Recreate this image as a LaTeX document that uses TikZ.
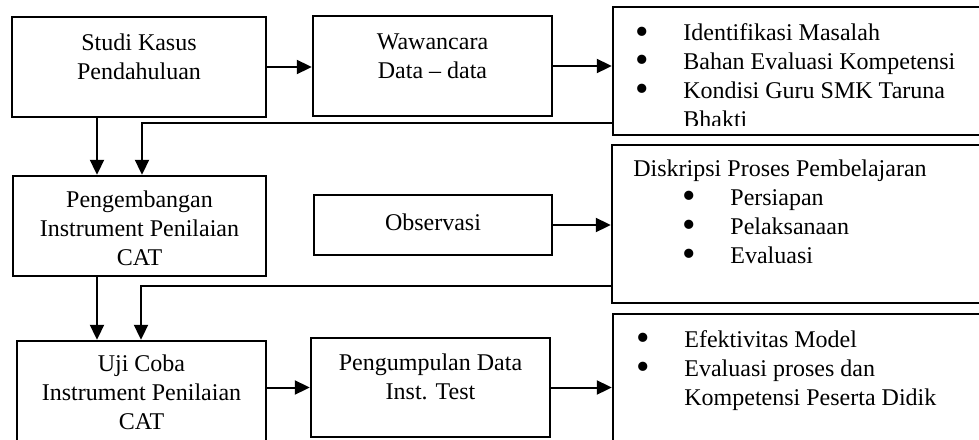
\documentclass[tikz,border=0pt]{standalone}
\usepackage{fontspec}
\usepackage{graphicx}
\setmainfont{Liberation Serif}
\usetikzlibrary{arrows.meta}
\begin{document}
\begin{tikzpicture}[x=0.5pt,y=-0.5pt,
  box/.style={draw, line width=1.2pt, rectangle, inner sep=0pt},
  txt/.style={inner sep=0pt, font=\fontsize{12}{14.4}\selectfont},
  ctxt/.style={txt, align=center, anchor=base},
  ltxt/.style={txt, align=left, anchor=base west},
  arr/.style={line width=1pt, -{Triangle[length=7.5pt,width=7pt]}}]
\useasboundingbox (0,0) rectangle (979,439);
\clip (0,0) rectangle (979,439);
\newcommand{\bul}{\makebox[24pt][l]{\raisebox{-1.7pt}{\scalebox{1.6}{\textbullet}}}}

% boxes
\node[box, minimum width=127pt,   minimum height=50pt] (b1) at (139,67) {};
\node[box, minimum width=119.5pt, minimum height=50pt] (b2) at (432.5,66) {};
\node[box, minimum width=191pt,   minimum height=64pt] (b3) at (804,71) {};
\node[box, minimum width=126.5pt, minimum height=50pt] (b4) at (139.5,226) {};
\node[box, minimum width=119pt,   minimum height=30pt] (b5) at (433,225) {};
\node[box, minimum width=191.5pt, minimum height=79pt] (b6) at (803.5,224) {};
\node[box, minimum width=124.5pt, minimum height=59.5pt] (b7) at (141.5,400.5) {};
\node[box, minimum width=119.5pt, minimum height=49.5pt] (b8) at (430.5,387.5) {};
\node[box, minimum width=191pt,   minimum height=73pt] (b9) at (804,387) {};

% box texts (anchored at the baseline of their last line)
\node[ctxt] (t1) at (139,79) {Studi Kasus\\Pendahuluan};
\node[ctxt] (t2) at (432.5,78) {Wawancara\\Data -- data};
\begin{scope}
  \clip (613,7) rectangle (979,125.5);
  \node[ltxt] (t3) at (635,127) {\bul Identifikasi Masalah\\
    \bul Bahan Evaluasi Kompetensi\\
    \bul Kondisi Guru SMK Taruna\\
    \hspace*{24pt}Bhakti};
\end{scope}
\node[ctxt] (t4) at (139.5,265) {Pengembangan\\Instrument Penilaian\\CAT};
\node[ctxt] (t5) at (433,230) {Observasi};
\node[ltxt] (t6) at (633,263) {Diskripsi Proses Pembelajaran\\
  \hspace*{24.5pt}\bul Persiapan\\
  \hspace*{24.5pt}\bul Pelaksanaan\\
  \hspace*{24.5pt}\bul Evaluasi};
\node[ctxt] (t7) at (141.5,429) {Uji Coba\\Instrument Penilaian\\CAT};
\node[ctxt] (t8) at (430.5,399) {Pengumpulan Data\\Inst. Test};
\node[ltxt] (t9) at (636,405) {\bul Efektivitas Model\\
  \bul Evaluasi proses dan\\
  \hspace*{24pt}Kompetensi Peserta Didik};

% routing points
\coordinate (colA) at (97,0);
\coordinate (kA) at (142,123);
\coordinate (kB) at (141,286);

% connectors
\draw[arr] (b1.east) -- (b1.east -| b2.west);
\draw[arr] (b2.east) -- (b2.east -| b3.west);
\draw[arr] (b5.east) -- (b5.east -| b6.west);
\draw[arr] (b8.west -| b7.east) -- (b8.west);
\draw[arr] (b8.east) -- (b8.east -| b9.west);
\draw[arr] (b1.south -| colA) -- (b4.north -| colA);
\draw[arr] (b4.south -| colA) -- (b7.north -| colA);
\draw[arr] (b3.west |- kA) -- (kA) -- (kA |- b4.north);
\draw[arr] (b6.west |- kB) -- (kB) -- (kB |- b7.north);
\end{tikzpicture}
\end{document}
